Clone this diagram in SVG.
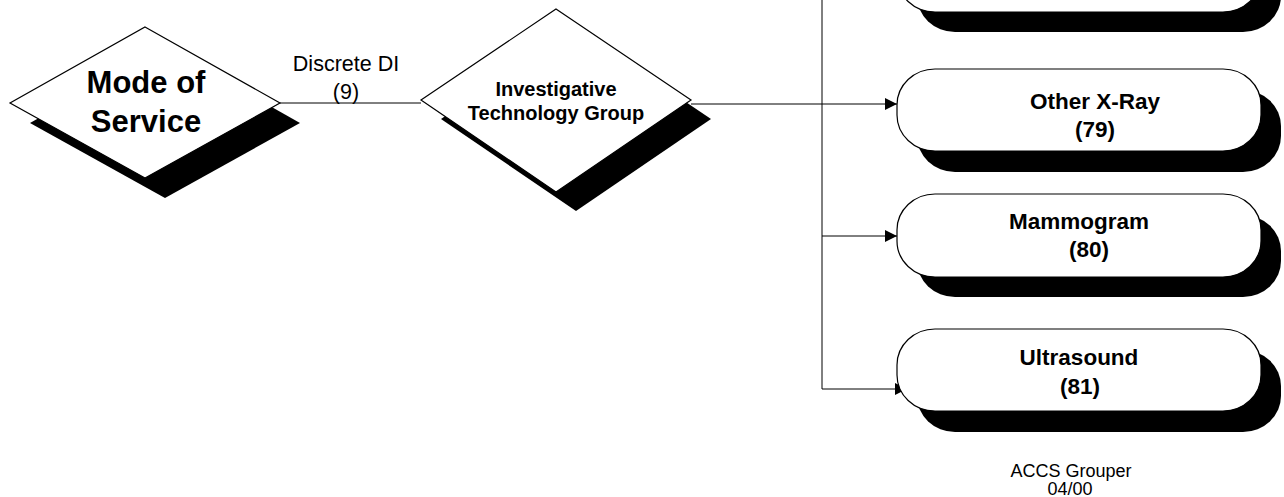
<svg xmlns="http://www.w3.org/2000/svg" width="1284" height="497" viewBox="0 0 1284 497">
<style>
.shadow{fill:#000;stroke:none}
.shape{fill:#fff;stroke:#000;stroke-width:1.2}
.conn{fill:none;stroke:#000;stroke-width:1}
.lbl{font-family:"Liberation Sans",Arial,sans-serif;fill:#000;text-anchor:middle}
.b{font-weight:bold}
</style>
<defs>
<marker id="arr" markerWidth="12" markerHeight="12" refX="12" refY="6" orient="auto" markerUnits="userSpaceOnUse">
<path d="M0,0 L12,6 L0,12 Z" fill="#000"/>
</marker>
</defs>
<rect width="1284" height="497" fill="#fff"/>
<g id="connectors">
<line class="conn" x1="280" y1="103" x2="421" y2="103"/>
<line class="conn" x1="691" y1="104" x2="897" y2="104" marker-end="url(#arr)"/>
<polyline class="conn" points="822,0 822,389 907,389" marker-end="url(#arr)"/>
<line class="conn" x1="822" y1="236" x2="897" y2="236" marker-end="url(#arr)"/>
<text class="lbl" x="346" y="71" font-size="21.5">Discrete DI</text>
<text class="lbl" x="346" y="99" font-size="21.5">(9)</text>
</g>
<g id="mode-of-service">
<polygon class="shadow" points="165,47 300,123 165,198 30,123"/>
<polygon class="shape" points="145,27 280,103 145,178 10,103"/>
<text class="lbl b" x="146" y="93" font-size="31">Mode of</text>
<text class="lbl b" x="146" y="132" font-size="31">Service</text>
</g>
<g id="investigative-technology-group">
<polygon class="shadow" points="576,28 711,119 576,211 441,119"/>
<polygon class="shape" points="556,9 691,100 556,192 421,100"/>
<text class="lbl b" x="556" y="96" font-size="20">Investigative</text>
<text class="lbl b" x="556" y="120" font-size="20">Technology Group</text>
</g>
<g id="top-box">
<rect class="shadow" x="917" y="-49" width="364" height="81" rx="38" ry="36"/>
<rect class="shape" x="897" y="-70" width="364" height="82" rx="38" ry="36"/>
</g>
<g id="other-x-ray">
<rect class="shadow" x="917" y="90" width="364" height="82" rx="38" ry="36"/>
<rect class="shape" x="897" y="69" width="364" height="82" rx="38" ry="36"/>
<text class="lbl b" x="1095" y="109" font-size="22.5">Other X-Ray</text>
<text class="lbl b" x="1095" y="137" font-size="22.5">(79)</text>
</g>
<g id="mammogram">
<rect class="shadow" x="917" y="215" width="364" height="82" rx="38" ry="36"/>
<rect class="shape" x="897" y="194" width="364" height="83" rx="38" ry="36"/>
<text class="lbl b" x="1079" y="229" font-size="22.5">Mammogram</text>
<text class="lbl b" x="1089" y="257" font-size="22.5">(80)</text>
</g>
<g id="ultrasound">
<rect class="shadow" x="917" y="350" width="364" height="82" rx="38" ry="36"/>
<rect class="shape" x="897" y="329" width="364" height="82" rx="38" ry="36"/>
<text class="lbl b" x="1079" y="365" font-size="22.5">Ultrasound</text>
<text class="lbl b" x="1080" y="394" font-size="22.5">(81)</text>
</g>
<g id="footer">
<text class="lbl" x="1071" y="477" font-size="18">ACCS Grouper</text>
<text class="lbl" x="1070" y="495" font-size="18">04/00</text>
</g>
</svg>
